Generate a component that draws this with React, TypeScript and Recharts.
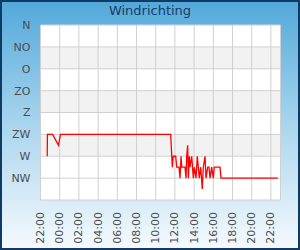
import React from 'react'
import { CartesianGrid, Line, LineChart, ReferenceLine, XAxis, YAxis } from 'recharts'

// time in hours from 00:00 of the first day (values > 24 are the next day)
const hours = [
  22.7, 22.72, 23.27, 23.875, 24.08, 35.56,
  35.73, 35.83, 36.08, 36.19, 36.43, 36.53, 36.64, 36.71, 37.05, 37.16,
  37.23, 37.33, 37.4, 37.5, 37.57, 37.75, 37.92, 38.02, 38.2, 38.33,
  38.44, 38.54, 38.69, 38.85, 38.96, 39.14, 39.24, 39.42, 39.55, 39.66,
  39.83, 40.0, 40.1, 40.7, 40.8, 46.71,
]
// 1 = NW, 2 = W, 3 = ZW ... 8 = N
const direction = [
  2, 3, 3, 2.5, 3, 3,
  1.5, 2, 2, 1.5, 1.5, 1, 2, 1.5, 1.5, 1,
  2, 2.5, 1, 2, 1.5, 2, 1, 1.5, 1, 2,
  1.5, 1, 1.5, 0.5, 1.5, 2, 1, 1.5, 1.5, 1,
  1.5, 1, 1.5, 1.5, 1, 1,
]
const windLabels = ['', 'NW', 'W', 'ZW', 'Z', 'ZO', 'O', 'NO', 'N']
const windTicks = [0, 1, 2, 3, 4, 5, 6, 7, 8]
const hourTicks = [22, 24, 26, 28, 30, 32, 34, 36, 38, 40, 42, 44, 46]

const stripeFills = ['#ffffff', '#f2f2f2', '#ffffff', '#f2f2f2', '#ffffff', '#f2f2f2', '#ffffff', '#ffffff']

const data = hours.map((h, i) => ({ h, dir: direction[i] }))

const fmtHour = (v: number) => `${String(v % 24).padStart(2, '0')}:00`

const HourTick = ({ x, y, payload }: any) => (
  <text
    x={x}
    y={y}
    transform={`rotate(-90 ${x} ${y})`}
    textAnchor="end"
    dominantBaseline="central"
    fontSize={11}
    fontFamily="DejaVu Sans"
    fill="#4d4d4d"
  >
    {fmtHour(payload.value)}
  </text>
)

export default function App() {
  return (
    <div
      style={{
        position: 'absolute',
        left: 0,
        top: 0,
        width: 300,
        height: 250,
        background: 'linear-gradient(to bottom, #51a8da 0%, #a9d5ee 50%, #f6fafd 100%)',
        fontFamily: 'DejaVu Sans',
      }}
    >
      <div
        style={{
          position: 'absolute',
          top: 3,
          left: 0,
          width: 300,
          textAlign: 'center',
          fontSize: 13,
          lineHeight: '15px',
          color: '#173c63',
        }}
      >
        Windrichting
      </div>
      <LineChart width={300} height={250} data={data} margin={{ top: 25, right: 19.5, bottom: 0, left: 0.5 }}>
        <CartesianGrid fill="#ffffff" horizontalFill={stripeFills} stroke="none" vertical={false} />
        <CartesianGrid stroke="#d0d0d0" />
        <ReferenceLine x={47} stroke="#d0d0d0" />
        <XAxis
          type="number"
          dataKey="h"
          domain={[22, 47]}
          ticks={hourTicks}
          allowDataOverflow
          height={50}
          axisLine={false}
          tickLine={false}
          tickSize={6}
          tickMargin={6}
          tick={<HourTick />}
          interval={0}
        />
        <YAxis
          type="number"
          domain={[0, 8]}
          ticks={windTicks}
          tickFormatter={(v: number) => windLabels[v]}
          width={40}
          axisLine={false}
          tickLine={false}
          tickSize={8}
          tickMargin={2}
          interval={0}
          tick={{ fontSize: 11, fill: '#4d4d4d', fontFamily: 'DejaVu Sans' }}
        />
        <Line type="linear" dataKey="dir" stroke="#ff0000" strokeWidth={1.3} dot={false} isAnimationActive={false} />
      </LineChart>
      <div
        style={{
          position: 'absolute',
          left: 0,
          top: 0,
          width: 300,
          height: 250,
          boxSizing: 'border-box',
          border: '2px solid #0f3a66',
          pointerEvents: 'none',
        }}
      />
    </div>
  )
}
